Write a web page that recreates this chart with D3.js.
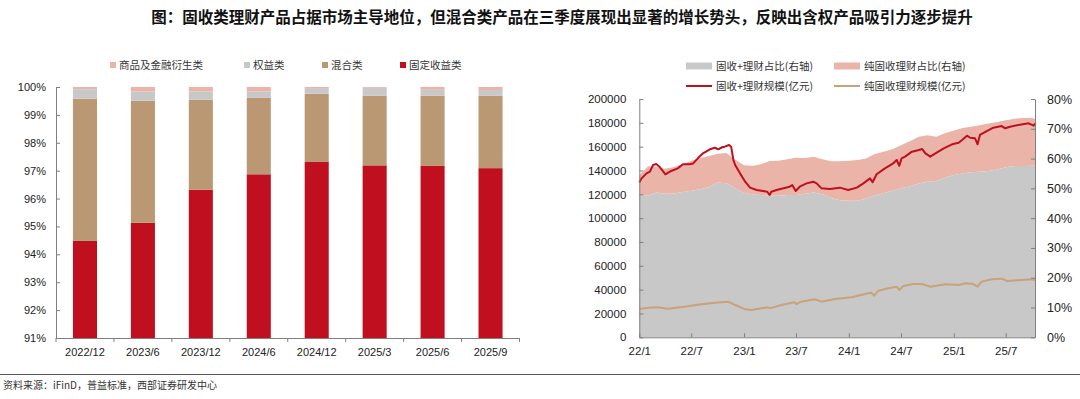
<!DOCTYPE html>
<html><head><meta charset="utf-8">
<script src="https://cdn.jsdelivr.net/npm/d3@7"></script>
<style>
html,body{margin:0;padding:0;background:#fff;}
svg{display:block;}
</style></head>
<body>
<svg id="chart" width="1080" height="399"></svg>
<script>
// ---------- Left chart data (share %, 2022/12 .. 2025/9) ----------
const barCategories = ["2022/12","2023/6","2023/12","2024/6","2024/12","2025/3","2025/6","2025/9"];
const fixedIncome  = [94.48, 95.13, 96.32, 96.87, 97.31, 97.19, 97.17, 97.09];
const mixed        = [5.10, 4.38, 3.22, 2.74, 2.45, 2.50, 2.52, 2.60];
const equity       = [0.34, 0.33, 0.30, 0.23, 0.20, 0.28, 0.21, 0.20];
const commodity    = [0.08, 0.16, 0.16, 0.16, 0.04, 0.03, 0.10, 0.11];
const leftTicks    = [91,92,93,94,95,96,97,98,99,100];

// ---------- Right chart data ----------
// monthly shares (%), first of each month 2022-01 .. 2025-10 plus last date
const shareDates = ["2022-01-01","2022-02-01","2022-03-01","2022-04-01","2022-05-01","2022-06-01","2022-07-01","2022-08-01","2022-09-01","2022-10-01","2022-11-01","2022-12-01",
 "2023-01-01","2023-02-01","2023-03-01","2023-04-01","2023-05-01","2023-06-01","2023-07-01","2023-08-01","2023-09-01","2023-10-01","2023-11-01","2023-12-01",
 "2024-01-01","2024-02-01","2024-03-01","2024-04-01","2024-05-01","2024-06-01","2024-07-01","2024-08-01","2024-09-01","2024-10-01","2024-11-01","2024-12-01",
 "2025-01-01","2025-02-01","2025-03-01","2025-04-01","2025-05-01","2025-06-01","2025-07-01","2025-08-01","2025-09-01","2025-10-01","2025-10-11"];
const fixedPlusShare = [47.8,47.6,48.6,48.2,48.3,48.8,49.2,49.7,50.4,52.0,51.7,50.0,
 48.5,47.9,47.8,47.5,47.5,47.8,47.8,48.2,48.6,48.0,46.8,46.0,
 45.8,45.8,46.6,47.6,48.4,49.2,50.0,50.7,51.6,52.2,52.5,53.6,
 54.5,55.0,55.4,55.6,55.8,56.3,57.1,57.5,57.5,57.6,57.6];
const pureFixedShare = [6.7,9.8,8.6,8.4,8.9,9.3,10.1,10.5,10.5,9.6,10.2,9.6,
 9.3,9.7,10.3,11.7,11.8,12.0,12.5,12.0,12.0,11.8,12.3,13.1,
 13.5,13.7,13.4,13.9,13.9,13.9,14.5,15.1,15.7,15.6,14.8,14.9,
 14.9,15.3,15.3,15.6,16.0,16.0,15.8,15.9,16.1,16.1,15.7];

// 固收+理财规模 (亿元)
const fixedPlusDates = ["2022-01-01","2022-01-09","2022-01-26","2022-02-07","2022-02-18","2022-03-01","2022-03-12","2022-04-02","2022-04-22","2022-05-15","2022-06-02","2022-06-25","2022-07-07","2022-07-24","2022-08-11","2022-09-04","2022-09-21","2022-10-03","2022-10-17","2022-10-26","2022-11-10","2022-11-17","2022-11-25","2022-12-01","2022-12-18",
 "2023-01-05","2023-01-22","2023-02-14","2023-03-08","2023-03-23","2023-03-31","2023-04-06","2023-04-24","2023-06-09","2023-06-18","2023-06-30","2023-07-14","2023-08-07","2023-08-30","2023-09-11","2023-09-28","2023-10-27","2023-12-01","2023-12-30",
 "2024-01-29","2024-02-21","2024-03-15","2024-03-24","2024-04-07","2024-05-06","2024-06-04","2024-06-16","2024-06-25","2024-07-03","2024-07-15","2024-08-08","2024-09-01","2024-09-13","2024-09-24","2024-10-11","2024-10-29","2024-11-27","2024-12-26",
 "2025-01-18","2025-01-30","2025-02-16","2025-02-27","2025-03-16","2025-03-25","2025-04-02","2025-04-26","2025-05-19","2025-06-17","2025-06-29","2025-07-16","2025-08-14","2025-09-19","2025-10-06","2025-10-11"];
const fixedPlusScale = [130000,133400,137600,139000,144600,145400,143200,136800,139600,141800,145200,145200,145800,150200,154400,157800,159100,157800,159500,160000,161400,160000,148800,144600,137600,
 130600,125600,123600,122800,122200,119400,122200,123600,126400,127800,122800,126400,129200,130600,129200,125000,124500,125600,123600,
 125600,129200,133400,130100,136800,141800,146000,148800,144000,150200,151600,155800,157200,158000,154400,151600,154400,158600,162000,
 163300,165600,169200,167500,167000,162000,169800,173100,175900,177300,175400,176700,178200,179600,177600,179300];

// 纯固收理财规模 (亿元)
const pureFixedDates = ["2022-01-01","2022-02-01","2022-03-06","2022-04-10","2022-06-08","2022-08-05","2022-09-21","2022-11-07","2022-12-01",
 "2023-01-05","2023-01-28","2023-03-02","2023-03-25","2023-03-31","2023-05-11","2023-06-26","2023-07-02","2023-07-19","2023-09-05","2023-09-28","2023-11-14",
 "2024-01-11","2024-03-09","2024-03-20","2024-03-29","2024-04-13","2024-05-18","2024-06-16","2024-06-25","2024-07-09","2024-08-13","2024-09-13","2024-10-11","2024-12-03",
 "2025-01-18","2025-02-11","2025-03-10","2025-03-25","2025-04-08","2025-05-13","2025-06-17","2025-07-05","2025-08-26","2025-10-01","2025-10-11"];
const pureFixedScale = [23800,24800,25200,24000,25700,27700,29000,29900,27100,
 23500,22900,24300,25200,24300,27100,29400,27900,29900,31900,29900,32100,
 33600,36900,37400,34900,39100,41100,42500,39700,43100,44700,44700,42500,44500,
 43900,45300,44700,42500,46700,48700,49200,47300,48100,48700,48100];

const leftAxisTicks  = [0,20000,40000,60000,80000,100000,120000,140000,160000,180000,200000];
const rightAxisTicks = [0,0.1,0.2,0.3,0.4,0.5,0.6,0.7,0.8];
const timeTicks = ["2022-01-01","2022-07-01","2023-01-01","2023-07-01","2024-01-01","2024-07-01","2025-01-01","2025-07-01"];

// ---------- Styles ----------
const C = {red:"#C00F1E", tan:"#BA9873", grey:"#C8C8C8", pink:"#EBB4A9", tanLine:"#C9A27A", axis:"#7F7F7F", text:"#222"};
const CJK = "'Noto Sans CJK SC','Noto Sans',sans-serif";
const NUM = "'Liberation Sans',Arial,sans-serif";

const svg = d3.select("#chart");
svg.append("rect").attr("width",1080).attr("height",399).attr("fill","#fff");

// Title
svg.append("text").attr("x",562).attr("y",23).attr("text-anchor","middle")
  .attr("font-family",CJK).attr("font-weight","bold").attr("font-size",15.5).attr("fill","#111")
  .text("图：固收类理财产品占据市场主导地位，但混合类产品在三季度展现出显著的增长势头，反映出含权产品吸引力逐步提升");

// Footer
svg.append("line").attr("x1",0).attr("x2",1080).attr("y1",374.5).attr("y2",374.5).attr("stroke","#555").attr("stroke-width",1);
svg.append("text").attr("x",3).attr("y",389).attr("font-family",CJK).attr("font-size",10).attr("fill","#333")
  .text("资料来源：iFinD，普益标准，西部证券研发中心");

// ================= Left chart =================
const L = {x0:56, x1:519.5, y0:338, y1:87};
const xB = d3.scaleBand().domain(barCategories).range([L.x0, L.x1]).paddingInner(0.585).paddingOuter(0.2925);
const yB = d3.scaleLinear().domain([91,100]).range([L.y0, L.y1]).clamp(true);

const barRows = barCategories.map((c,i)=>({cat:c, fixed:fixedIncome[i], mixed:mixed[i], equity:equity[i], commodity:commodity[i]}));
const keys = ["fixed","mixed","equity","commodity"];
const keyColor = {fixed:C.red, mixed:C.tan, equity:C.grey, commodity:C.pink};
const stacked = d3.stack().keys(keys)(barRows);

const gL = svg.append("g");
stacked.forEach(layer=>{
  gL.append("g").attr("fill",keyColor[layer.key]).selectAll("rect").data(layer).join("rect")
    .attr("x",d=>xB(d.data.cat)).attr("width",xB.bandwidth())
    .attr("y",d=>yB(Math.min(d[1],100))).attr("height",d=>Math.max(0,yB(d[0])-yB(Math.min(d[1],100))));
});

// y axis
const yAxL = gL.append("g").attr("transform",`translate(${L.x0},0)`)
  .call(d3.axisLeft(yB).tickValues(leftTicks).tickFormat(d=>d+"%").tickSizeInner(-4).tickSizeOuter(0).tickPadding(10));
yAxL.select(".domain").attr("stroke",C.axis);
yAxL.selectAll(".tick line").attr("stroke",C.axis);
yAxL.selectAll("text").attr("font-family",NUM).attr("font-size",11).attr("fill",C.text);

// x axis
const xAxL = gL.append("g").attr("transform",`translate(0,${L.y0})`)
  .call(d3.axisBottom(xB).tickSize(0).tickPadding(10));
xAxL.select(".domain").attr("stroke",C.axis);
xAxL.selectAll("text").attr("font-family",NUM).attr("font-size",11).attr("fill",C.text);
const step = xB.step();
gL.selectAll("line.bt").data(d3.range(barCategories.length+1)).join("line").attr("class","bt")
  .attr("x1",i=>L.x0+i*step).attr("x2",i=>L.x0+i*step).attr("y1",L.y0).attr("y2",L.y0+4).attr("stroke",C.axis);

// left legend
const legL = [
  {label:"商品及金融衍生类", color:C.pink, x:110},
  {label:"权益类", color:C.grey, x:244},
  {label:"混合类", color:C.tan, x:322},
  {label:"固定收益类", color:C.red, x:400}
];
const lg = gL.append("g");
legL.forEach(it=>{
  lg.append("rect").attr("x",it.x).attr("y",62).attr("width",6).attr("height",6).attr("fill",it.color);
  lg.append("text").attr("x",it.x+9).attr("y",69).attr("font-family",CJK).attr("font-size",10.5).attr("fill","#333").text(it.label);
});

// ================= Right chart =================
const R = {x0:639.3, x1:1035, y0:337.3, y1:99};
const parse = d3.timeParse("%Y-%m-%d");
const xT = d3.scaleTime().domain([parse("2022-01-01"), parse("2025-10-11")]).range([R.x0, R.x1]);
const yLft = d3.scaleLinear().domain([0,200000]).range([R.y0, R.y1]);
const yRgt = d3.scaleLinear().domain([0,0.8]).range([R.y0, R.y1]);

const shareRows = shareDates.map((d,i)=>({date:parse(d), fp:fixedPlusShare[i]/100, pure:pureFixedShare[i]/100}));
const gR = svg.append("g");
// pink (stacked on top of grey)
gR.append("path").datum(shareRows).attr("fill",C.pink)
  .attr("d", d3.area().x(d=>xT(d.date)).y0(d=>yRgt(d.fp)).y1(d=>yRgt(d.fp+d.pure)));
gR.append("path").datum(shareRows).attr("fill",C.grey)
  .attr("d", d3.area().x(d=>xT(d.date)).y0(yRgt(0)).y1(d=>yRgt(d.fp)));

const redRows = fixedPlusDates.map((d,i)=>({date:parse(d), v:fixedPlusScale[i]}));
const tanRows = pureFixedDates.map((d,i)=>({date:parse(d), v:pureFixedScale[i]}));
const lineGen = d3.line().x(d=>xT(d.date)).y(d=>yLft(d.v));
gR.append("path").datum(tanRows).attr("fill","none").attr("stroke",C.tanLine).attr("stroke-width",2).attr("stroke-linejoin","round").attr("d",lineGen);
gR.append("path").datum(redRows).attr("fill","none").attr("stroke",C.red).attr("stroke-width",2).attr("stroke-linejoin","round").attr("d",lineGen);

// axes
const axL = gR.append("g").attr("transform",`translate(${R.x0},0)`)
  .call(d3.axisLeft(yLft).tickValues(leftAxisTicks).tickFormat(d3.format("d")).tickSizeInner(-4).tickSizeOuter(0).tickPadding(13));
const axR = gR.append("g").attr("transform",`translate(${R.x1},0)`)
  .call(d3.axisRight(yRgt).tickValues(rightAxisTicks).tickFormat(d3.format(".0%")).tickSizeInner(-4).tickSizeOuter(0).tickPadding(12));
const axB = gR.append("g").attr("transform",`translate(0,${R.y0})`)
  .call(d3.axisBottom(xT).tickValues(timeTicks.map(parse)).tickFormat(d3.timeFormat("%y/%-m")).tickSizeInner(-4).tickSizeOuter(0).tickPadding(10));
[axL,axR,axB].forEach(a=>{
  a.select(".domain").attr("stroke",C.axis);
  a.selectAll(".tick line").attr("stroke",C.axis);
  a.selectAll("text").attr("font-family",NUM).attr("fill",C.text);
});
axL.selectAll("text").attr("font-size",11.5);
axR.selectAll("text").attr("font-size",12.5);
axB.selectAll("text").attr("font-size",11.5);

// right legend
const legR = [
  {label:"固收+理财占比(右轴)", color:C.grey, type:"area", x:686, y:66},
  {label:"纯固收理财占比(右轴)", color:C.pink, type:"area", x:834, y:66},
  {label:"固收+理财规模(亿元)", color:C.red, type:"line", x:686, y:86},
  {label:"纯固收理财规模(亿元)", color:C.tanLine, type:"line", x:834, y:86}
];
legR.forEach(it=>{
  if(it.type==="area") gR.append("rect").attr("x",it.x).attr("y",it.y-3.5).attr("width",26).attr("height",7).attr("fill",it.color);
  else gR.append("line").attr("x1",it.x).attr("x2",it.x+26).attr("y1",it.y).attr("y2",it.y).attr("stroke",it.color).attr("stroke-width",2);
  gR.append("text").attr("x",it.x+30).attr("y",it.y+4).attr("font-family",CJK).attr("font-size",10.5).attr("fill","#333").text(it.label);
});
</script>
</body></html>
